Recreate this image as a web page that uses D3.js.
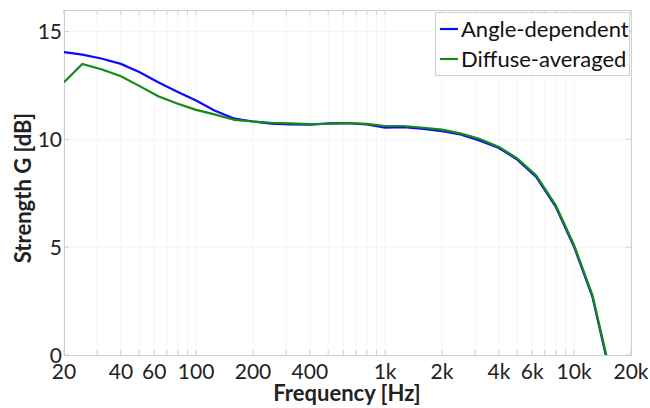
<!DOCTYPE html>
<html><head><meta charset="utf-8">
<script src="https://cdn.jsdelivr.net/npm/d3@7"></script>
<style>body{margin:0;background:#fff}svg{display:block}</style>
</head><body><svg id="c" width="650" height="408"></svg>
<script>
const freqs = [20,25,31.5,40,50,63,80,100,125,160,200,250,315,400,500,630,800,1000,1250,1600,2000,2500,3150,4000,5000,6300,8000,10000,12500,16000];
const angleDependent = [14.05,13.93,13.75,13.5,13.12,12.65,12.2,11.8,11.34,10.96,10.83,10.73,10.69,10.68,10.74,10.75,10.69,10.54,10.57,10.49,10.38,10.23,9.95,9.6,9.06,8.26,6.87,5.01,2.7,-1.4];
const diffuseAveraged = [12.65,13.5,13.25,12.93,12.48,12.0,11.65,11.37,11.16,10.9,10.83,10.77,10.74,10.71,10.72,10.76,10.72,10.62,10.62,10.54,10.45,10.28,10.03,9.65,9.12,8.33,6.94,5.09,2.78,-1.28];
const xTickValues = [20,40,60,100,200,400,1000,2000,4000,6000,10000,20000];
const xTickLabels = ["20","40","60","100","200","400","1k","2k","4k","6k","10k","20k"];
const yTickValues = [0,5,10,15];
const seriesNames = ["Angle-dependent","Diffuse-averaged"];
const seriesColors = ["#0a0aff","#138a13"];

const svg = d3.select("#c");
const m = {l:64, t:10, r:631, b:355};
const x = d3.scaleLog().domain([20,20000]).range([m.l, m.r]);
const y = d3.scaleLinear().domain([0,16]).range([m.b, m.t]);
const font = "Lato, 'Open Sans', sans-serif";

const minor = [];
[10,100,1000,10000].forEach(d => { for (let k=1;k<10;k++){ const v=d*k; if(v>=20 && v<=20000) minor.push(v);} });

const g = svg.append("g");
g.selectAll("line.vg").data(minor).join("line")
  .attr("x1", d=>x(d)).attr("x2", d=>x(d)).attr("y1", m.t).attr("y2", m.b)
  .attr("stroke", "#f5f5f5").attr("stroke-width", 1);
g.selectAll("line.hg").data(yTickValues.filter(d=>d>0)).join("line")
  .attr("x1", m.l).attr("x2", m.r).attr("y1", d=>y(d)).attr("y2", d=>y(d))
  .attr("stroke", "#f5f5f5").attr("stroke-width", 1);

g.selectAll("line.tb").data(minor).join("line")
  .attr("x1", d=>x(d)).attr("x2", d=>x(d)).attr("y1", m.b).attr("y2", m.b-5)
  .attr("stroke", "#cfcfcf");
g.selectAll("line.tt").data(minor).join("line")
  .attr("x1", d=>x(d)).attr("x2", d=>x(d)).attr("y1", m.t).attr("y2", m.t+5)
  .attr("stroke", "#cfcfcf");
g.selectAll("line.tl").data(yTickValues).join("line")
  .attr("x1", m.l).attr("x2", m.l+5).attr("y1", d=>y(d)).attr("y2", d=>y(d)).attr("stroke", "#cfcfcf");
g.selectAll("line.tr").data(yTickValues).join("line")
  .attr("x1", m.r).attr("x2", m.r-5).attr("y1", d=>y(d)).attr("y2", d=>y(d)).attr("stroke", "#cfcfcf");

g.append("rect").attr("x", m.l+0.5).attr("y", m.t+0.5).attr("width", m.r-m.l).attr("height", m.b-m.t)
  .attr("fill","none").attr("stroke","#cfcfcf").attr("stroke-width",1);

svg.append("clipPath").attr("id","clip").append("rect")
  .attr("x", m.l).attr("y", m.t).attr("width", m.r-m.l).attr("height", m.b-m.t);

const line = d3.line().x(d=>x(d[0])).y(d=>y(d[1]));
[angleDependent, diffuseAveraged].forEach((vals,i) => {
  svg.append("path").attr("clip-path","url(#clip)")
    .datum(freqs.map((f,j)=>[f, vals[j]]))
    .attr("d", line).attr("fill","none").attr("stroke", seriesColors[i]).attr("stroke-width", 2.2);
});

svg.selectAll("text.xt").data(xTickValues).join("text")
  .attr("x", d=>x(d)).attr("y", 379).attr("text-anchor","middle")
  .attr("font-family", font).attr("font-size", 21).attr("fill","#222")
  .text((d,i)=>xTickLabels[i]);
svg.selectAll("text.yt").data(yTickValues).join("text")
  .attr("x", 62).attr("y", d=>y(d)).attr("dy","0.36em").attr("text-anchor","end")
  .attr("font-family", font).attr("font-size", 21).attr("fill","#222")
  .text(d=>d);

svg.append("text").attr("x", 347).attr("y", 401).attr("text-anchor","middle")
  .attr("font-family", font).attr("font-weight","bold").attr("font-size", 22).attr("fill","#222")
  .text("Frequency [Hz]");
svg.append("text").attr("transform","translate(31,188) rotate(-90)").attr("text-anchor","middle")
  .attr("font-family", font).attr("font-weight","bold").attr("font-size", 22).attr("fill","#222")
  .text("Strength G [dB]");

const lg = svg.append("g");
lg.append("rect").attr("x", 435.5).attr("y", 12.5).attr("width", 194).attr("height", 63)
  .attr("fill","#fff").attr("stroke","#d0d0d0");
seriesNames.forEach((n,i) => {
  const yy = 29 + i*30;
  lg.append("line").attr("x1", 440).attr("x2", 458).attr("y1", yy).attr("y2", yy)
    .attr("stroke", seriesColors[i]).attr("stroke-width", 2.2);
  lg.append("text").attr("x", 461).attr("y", yy).attr("dy","0.36em")
    .attr("font-family", font).attr("font-size", 22).attr("fill","#111").text(n);
});
</script></body></html>
